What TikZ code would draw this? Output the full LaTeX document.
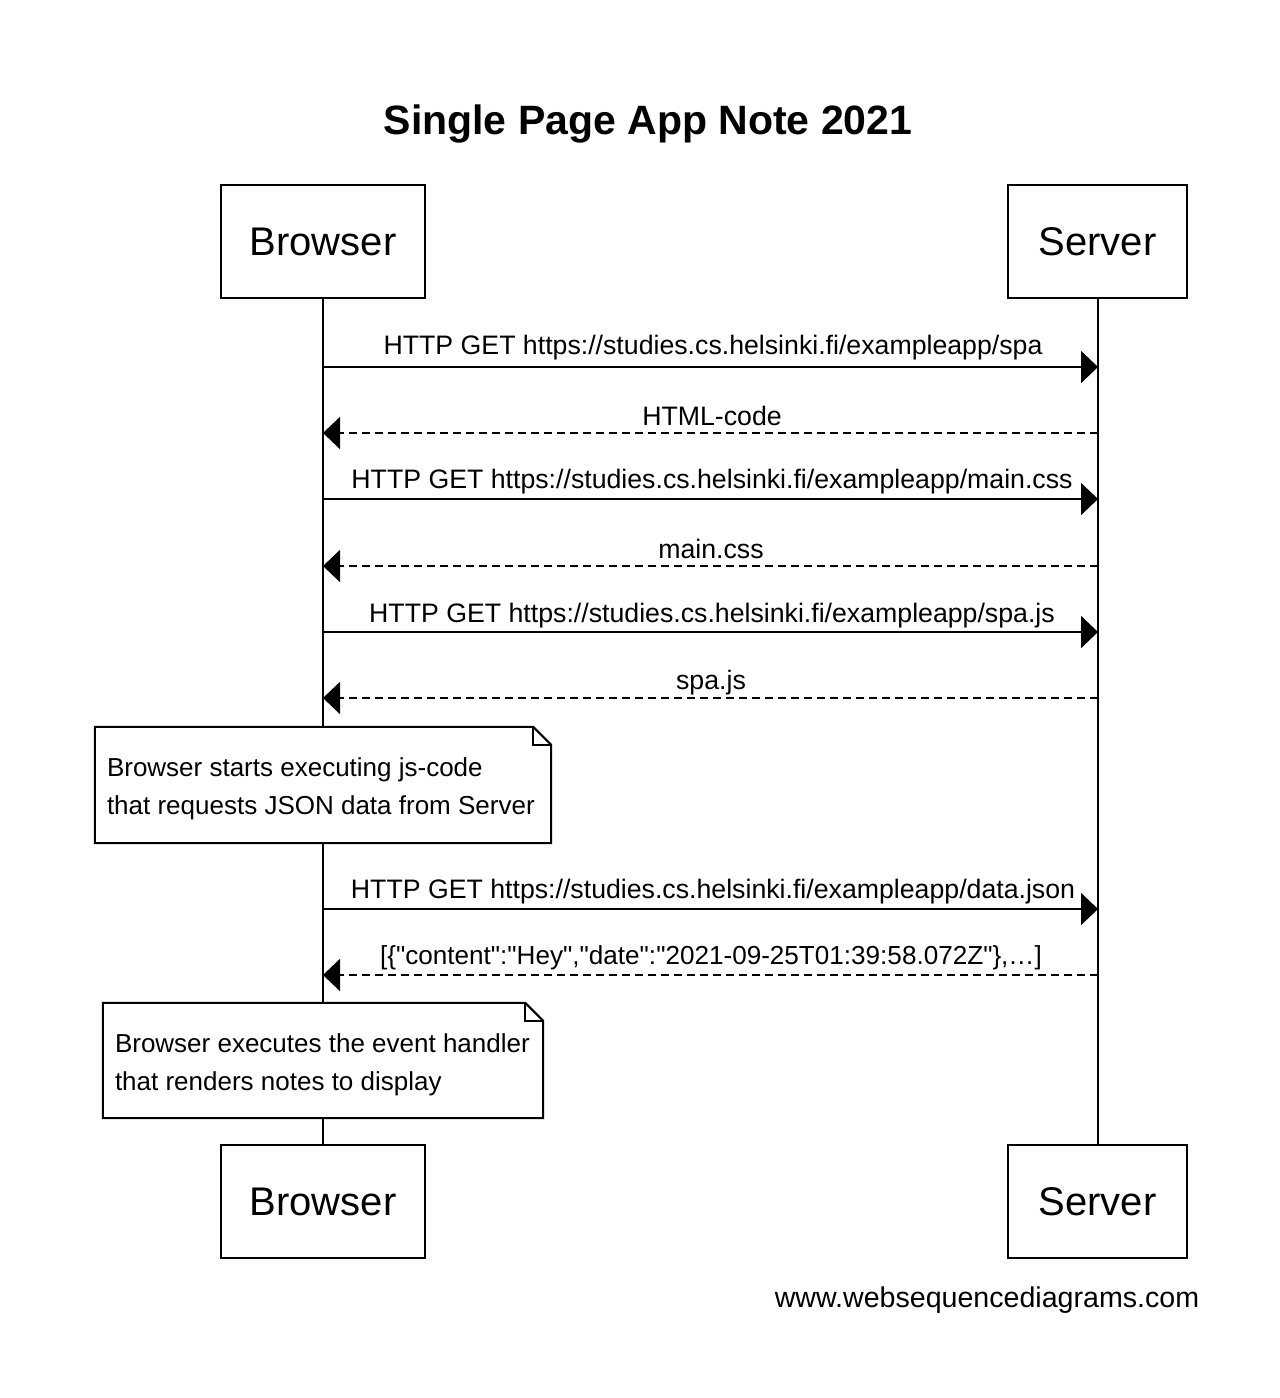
\documentclass[tikz,border=0pt]{standalone}
\usepackage{fontspec}
\setmainfont{Liberation Sans}
\newfontfamily\rawfont{Liberation Sans}
\usetikzlibrary{arrows.meta,calc}
\tikzset{
  actorbox/.style={draw, line width=2pt, fill=white, minimum height=113pt, inner sep=0pt, font=\fontsize{40}{44}\selectfont},
  lifeline/.style={line width=2pt},
  msg/.style={line width=2pt, -{Triangle[length=17pt,width=32pt]}},
  reply/.style={msg, dash pattern=on 8pt off 5pt},
  msglabel/.style={font=\fontsize{26.7}{30}\selectfont, inner sep=0pt},
  noteframe/.style={inner sep=0pt},
  notetext/.style={inner sep=0pt, anchor=west, align=left, font=\fontsize{26}{38}\selectfont},
  noteline/.style={line width=2pt, fill=white, line join=miter},
}
\begin{document}
\begin{tikzpicture}[x=1pt,y=-1pt]
\useasboundingbox (0,0) rectangle (1280,1398);
% title
\node[font=\bfseries\fontsize{41}{46}\selectfont] (title) at (648,124) {Single Page App Note 2021};
% participants
\node[actorbox, minimum width=204pt] (bt) at (323,241.5) {Browser};
\node[actorbox, minimum width=179pt] (st) at (1097.5,241.5) {Server};
\node[actorbox, minimum width=204pt] (bb) at (323,1201.5) {Browser};
\node[actorbox, minimum width=179pt] (sb) at (1097.5,1201.5) {Server};
% lifelines
\draw[lifeline] (bt.south) -- (bb.north);
\draw[lifeline] (st.south) -- (sb.north);
% message endpoints
\foreach \n/\y in {1/367,2/433,3/499,4/566,5/632,6/698,7/909,8/975}{
  \coordinate (b\n) at (323,\y);
  \coordinate (s\n) at (1098,\y);
}
\draw[msg] (b1) -- (s1);
\node[msglabel] (l1) at (713,348) {HTTP GET https://studies.cs.helsinki.fi/exampleapp/spa};
\draw[reply] (s2) -- (b2);
\node[msglabel] (l2) at (712,416) {HTML-code};
\draw[msg] (b3) -- (s3);
\node[msglabel] (l3) at (712,482) {HTTP GET https://studies.cs.helsinki.fi/exampleapp/main.css};
\draw[reply] (s4) -- (b4);
\node[msglabel] (l4) at (711,549) {main.css};
\draw[msg] (b5) -- (s5);
\node[msglabel] (l5) at (712,616) {HTTP GET https://studies.cs.helsinki.fi/exampleapp/spa.js};
\draw[reply] (s6) -- (b6);
\node[msglabel] (l6) at (711,683) {spa.js};
\draw[msg] (b7) -- (s7);
\node[msglabel] (l7) at (713,892) {HTTP GET https://studies.cs.helsinki.fi/exampleapp/data.json};
\draw[reply] (s8) -- (b8);
\node[msglabel, font=\rawfont\fontsize{26.1}{30}\selectfont] (l8) at (711,958) {[\{"content":"Hey","date":"2021-09-25T01:39:58.072Z"\},…]};
% notes
\node[noteframe, minimum width=456pt, minimum height=116pt] (n1) at (323,785) {};
\node[noteframe, minimum width=440pt, minimum height=115pt] (n2) at (323,1060.5) {};
\foreach \nn in {n1,n2}{
  \draw[noteline] (\nn.north west) -- ($(\nn.north east)+(-18,0)$) -- ($(\nn.north east)+(0,18)$)
     -- (\nn.south east) -- (\nn.south west) -- cycle;
  \draw[line width=2pt, line join=miter] ($(\nn.north east)+(-18,0)$) -- ($(\nn.north east)+(-18,18)$) -- ($(\nn.north east)+(0,18)$);
}
\node[notetext] (n1t) at ($(n1.west)+(12,4)$)
  {Browser starts executing js-code\\that requests JSON data from Server};
\node[notetext] (n2t) at ($(n2.west)+(12,4)$)
  {Browser executes the event handler\\that renders notes to display};
% footer
\node[font=\fontsize{28.6}{32}\selectfont] (footer) at (987,1300) {www.websequencediagrams.com};
\end{tikzpicture}
\end{document}
